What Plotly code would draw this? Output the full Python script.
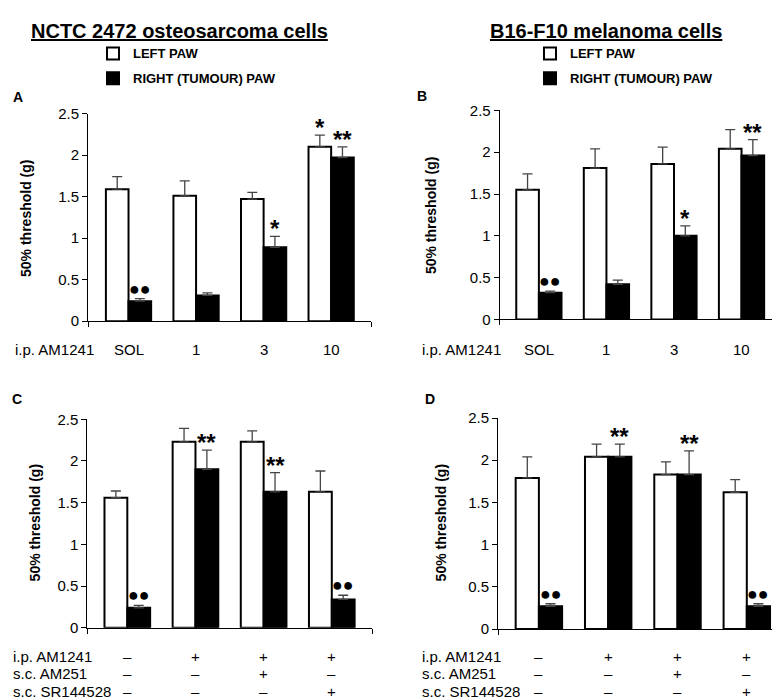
import plotly.graph_objects as go

# dose / treatment groups
doses = ["SOL", "1", "3", "10"]
row_ip = ["–", "+", "+", "+"]
row_am251 = ["–", "–", "+", "–"]
row_sr = ["–", "–", "–", "+"]

# panel A - NCTC 2472, AM1241 dose response
a_left = [1.59, 1.51, 1.47, 2.10]
a_left_err = [0.15, 0.18, 0.08, 0.14]
a_right = [0.24, 0.31, 0.89, 1.97]
a_right_err = [0.03, 0.03, 0.13, 0.13]
a_marks = [("R", 0, "●●"), ("R", 2, "*"), ("L", 3, "*"), ("R", 3, "**")]

# panel B - B16-F10, AM1241 dose response
b_left = [1.55, 1.81, 1.86, 2.04]
b_left_err = [0.19, 0.23, 0.20, 0.23]
b_right = [0.32, 0.42, 1.00, 1.96]
b_right_err = [0.02, 0.05, 0.12, 0.19]
b_marks = [("R", 0, "●●"), ("R", 2, "*"), ("R", 3, "**")]

# panel C - NCTC 2472, antagonists
c_left = [1.56, 2.23, 2.23, 1.63]
c_left_err = [0.08, 0.16, 0.13, 0.25]
c_right = [0.24, 1.90, 1.63, 0.34]
c_right_err = [0.03, 0.23, 0.23, 0.05]
c_marks = [("R", 0, "●●"), ("R", 1, "**"), ("R", 2, "**"), ("R", 3, "●●")]

# panel D - B16-F10, antagonists
d_left = [1.79, 2.04, 1.83, 1.62]
d_left_err = [0.25, 0.15, 0.15, 0.15]
d_right = [0.27, 2.04, 1.83, 0.27]
d_right_err = [0.03, 0.15, 0.28, 0.03]
d_marks = [("R", 0, "●●"), ("R", 1, "**"), ("R", 2, "**"), ("R", 3, "●●")]

FONT = "Liberation Sans, Arial, sans-serif"
W, H = 780, 700
BARGAP = 0.33
HALF = (1 - BARGAP) / 4


def px(x):
    return x / W


def py(y):
    return 1 - y / H


fig = go.Figure()


def add_panel(n, left, left_err, right, right_err, legend):
    x = list(range(len(left)))
    xa, ya = ("x", "y") if n == 1 else ("x%d" % n, "y%d" % n)
    for name, vals, errs, color, grp in [("LEFT PAW", left, left_err, "white", "l"),
                                         ("RIGHT (TUMOUR) PAW", right, right_err, "black", "r")]:
        fig.add_trace(go.Bar(
            x=x, y=vals, name=name, xaxis=xa, yaxis=ya,
            marker=dict(color=color, line=dict(color="black", width=2)),
            error_y=dict(type="data", array=errs, arrayminus=[0] * len(errs),
                         symmetric=False, color="#444", thickness=1.3, width=5),
            showlegend=legend is not None, legend=legend or "legend",
            legendgroup=grp + str(n),
        ))


add_panel(1, a_left, a_left_err, a_right, a_right_err, "legend")
add_panel(2, b_left, b_left_err, b_right, b_right_err, "legend2")
add_panel(3, c_left, c_left_err, c_right, c_right_err, None)
add_panel(4, d_left, d_left_err, d_right, d_right_err, None)

# axis geometry (pixels) for each panel: x0, x1, y_bottom, y_top, x range
geom = {
    1: (80, 363, 311.7, 99, [-0.6, 3.59]),
    2: (491.7, 770, 310, 95.7, [-0.58, 3.54]),
    3: (79.3, 364, 626, 412.3, [-0.587, 3.59]),
    4: (490, 779, 627.3, 411, [-0.59, 3.58]),
}

layout = {}
for n, (x0, x1, yb, yt, xr) in geom.items():
    sx = "" if n == 1 else str(n)
    layout["xaxis" + sx] = dict(
        domain=[px(x0), px(x1)], range=xr, anchor="y" + sx,
        showline=True, linecolor="black", linewidth=1,
        ticks="outside", tickvals=xr, ticklen=5, tickcolor="black",
        showticklabels=False, showgrid=False, zeroline=False, fixedrange=True,
    )
    layout["yaxis" + sx] = dict(
        domain=[py(yb), py(yt)], range=[0, 2.5], anchor="x" + sx,
        showline=True, linecolor="black", linewidth=1,
        ticks="outside", ticklen=5, tickcolor="black",
        tickvals=[0, 0.5, 1, 1.5, 2, 2.5], ticktext=["0", "0.5", "1", "1.5", "2", "2.5"],
        tickfont=dict(family=FONT, size=15, color="black"),
        showgrid=False, zeroline=False, fixedrange=True,
    )

ann = []


def text(x, y, t, size=13, bold=False, xanchor="center", xref="paper", yanchor="middle",
         angle=0, yref="paper", yshift=0):
    ann.append(dict(x=x, y=y, xref=xref, yref=yref, text=("<b>%s</b>" % t) if bold else t,
                    showarrow=False, xanchor=xanchor, yanchor=yanchor, textangle=angle,
                    yshift=yshift, font=dict(family=FONT, size=size, color="black")))


# titles
text(px(171), py(14), "<u>NCTC 2472 osteosarcoma cells</u>", size=20, bold=True)
text(px(598), py(14), "<u>B16-F10 melanoma cells</u>", size=20, bold=True)

# panel letters
text(px(3), py(82), "A", size=14, bold=True, xanchor="left")
text(px(407), py(81), "B", size=14, bold=True, xanchor="left")
text(px(2), py(391), "C", size=14, bold=True, xanchor="left")
text(px(415), py(392), "D", size=14, bold=True, xanchor="left")

# y-axis titles
text(px(18), py(207), "50% threshold (g)", size=14, bold=True, angle=-90)
text(px(423), py(203), "50% threshold (g)", size=14, bold=True, angle=-90)
text(px(27), py(519), "50% threshold (g)", size=14, bold=True, angle=-90)
text(px(433), py(519), "50% threshold (g)", size=14, bold=True, angle=-90)

# x labels, dose-response panels
for n, lx in [(1, 5), (2, 412)]:
    sx = "x" if n == 1 else "x%d" % n
    text(px(lx), py(341), "i.p. AM1241", size=15, xanchor="left")
    for i, d in enumerate(doses):
        text(i, py(341), d, size=15, xref=sx)

# x labels, antagonist panels
rows = [("i.p. AM1241", row_ip, 655), ("s.c. AM251", row_am251, 673), ("s.c. SR144528", row_sr, 691.5)]
for n, lx in [(3, 3), (4, 412)]:
    sx = "x%d" % n
    for label, vals, yy in rows:
        text(px(lx), py(yy), label, size=15, xanchor="left")
        for i, v in enumerate(vals):
            text(i, py(yy), v, size=15, xref=sx)

# significance markers
for n, marks, left, le, right, re in [(1, a_marks, a_left, a_left_err, a_right, a_right_err),
                                      (2, b_marks, b_left, b_left_err, b_right, b_right_err),
                                      (3, c_marks, c_left, c_left_err, c_right, c_right_err),
                                      (4, d_marks, d_left, d_left_err, d_right, d_right_err)]:
    sx = "" if n == 1 else str(n)
    for side, i, m in marks:
        if side == "L":
            xv, yv = i - HALF, left[i] + le[i]
        else:
            xv, yv = i + HALF, right[i] + re[i]
        if m == "●●":
            text(xv, yv, m, size=18, xref="x" + sx, yref="y" + sx, yanchor="bottom", yshift=-2)
        else:
            text(xv, yv, m, size=24, bold=True, xref="x" + sx, yref="y" + sx,
                 yanchor="bottom", yshift=-8)

legend_style = dict(font=dict(family=FONT, size=13, color="black"), bgcolor="rgba(0,0,0,0)",
                    xanchor="left", yanchor="top", traceorder="grouped", tracegroupgap=5,
                    itemclick=False, itemdoubleclick=False)

fig.update_layout(
    width=W, height=H,
    margin=dict(l=0, r=0, t=0, b=0),
    paper_bgcolor="white", plot_bgcolor="white",
    barmode="group", bargap=BARGAP, bargroupgap=0,
    annotations=ann,
    legend=dict(x=px(85), y=py(22), **legend_style),
    legend2=dict(x=px(522), y=py(22), **legend_style),
    font=dict(family=FONT, color="black"),
    **layout,
)
# bold legend labels
fig.for_each_trace(lambda t: t.update(name="<b>%s</b>" % t.name))

fig.write_html("out.html")
